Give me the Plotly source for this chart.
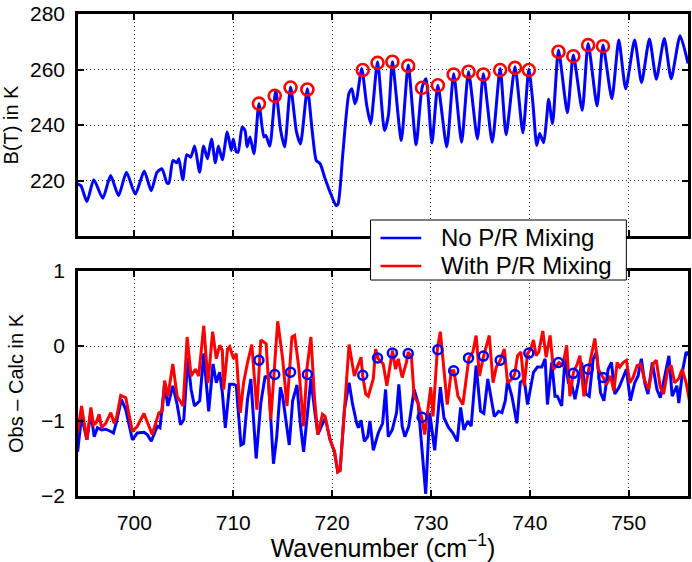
import plotly.graph_objects as go

# ---------------- data ----------------
top_wn = [694.26, 694.6, 695.2, 695.9, 696.8, 697.6, 698.4, 699.2, 700.1, 701.0,
          701.7, 702.3, 702.8, 703.3, 703.5, 703.9, 704.3, 704.5, 704.9, 705.3,
          705.7, 706.1, 706.6, 707.0, 707.4, 707.8, 708.2, 708.5, 708.9, 709.4,
          709.8, 710.0, 710.3, 710.5, 710.9, 711.2, 711.4, 711.7, 712.1, 712.6,
          713.1, 713.3, 713.7, 714.3, 714.8, 715.2, 715.8, 716.4, 716.8, 717.5,
          718.0, 718.4, 718.8, 719.3, 720.0, 720.4, 720.6, 721.1, 721.7, 722.0,
          722.3, 722.5, 723.0, 723.5, 723.9, 724.6, 725.3, 725.7, 726.1, 727.0,
          727.7, 728.5, 729.1, 729.5, 730.1, 730.7, 731.6, 732.3, 733.1, 733.8,
          734.7, 735.3, 736.2, 737.0, 737.6, 738.5, 739.3, 739.9, 740.3, 740.7,
          741.0, 741.4, 741.7, 741.9, 742.3, 742.9, 743.8, 744.4, 745.3, 745.9,
          746.8, 747.4, 748.3, 749.0, 749.7, 750.6, 751.3, 752.1, 752.8, 753.6,
          754.3, 755.2, 756.0]
top_bt = [218.8, 218.1, 212.4, 220.3, 213.6, 221.8, 214.5, 223.0, 215.1, 223.4,
          216.3, 223.0, 224.2, 219.1, 219.1, 227.2, 226.4, 227.8, 220.3, 229.3,
          228.4, 232.4, 223.0, 232.4, 227.8, 235.0, 226.4, 232.4, 227.5, 237.5,
          230.8, 235.0, 230.4, 230.2, 239.3, 238.0, 232.1, 235.7, 229.6, 247.7,
          235.7, 236.2, 232.4, 252.5, 238.0, 232.1, 253.7, 237.5, 233.2, 253.1,
          237.5, 227.2, 226.0, 220.6, 214.0, 211.0, 211.5, 230.2, 251.3, 253.1,
          247.7, 249.5, 260.4, 247.1, 240.5, 262.8, 238.0, 243.5, 262.8, 234.4,
          261.6, 232.9, 253.5, 256.7, 233.5, 254.3, 232.1, 258.5, 233.8, 259.2,
          235.0, 258.5, 233.8, 260.4, 236.5, 261.0, 237.2, 260.1, 248.3, 232.6,
          236.9, 233.6, 242.3, 249.3, 240.5, 267.0, 244.4, 265.2, 245.3, 269.4,
          246.9, 268.8, 249.5, 270.6, 253.1, 270.6, 255.3, 271.0, 256.5, 271.2,
          256.7, 272.2, 262.2]

red_wn = [694.26, 694.66, 695.20, 695.60, 695.87, 696.11, 696.44, 696.68, 697.11, 697.62,
          697.95, 698.22, 698.62, 699.13, 699.80, 700.30, 700.97, 701.81, 702.48, 702.82,
          703.06, 703.39, 703.89, 704.33, 704.93, 705.34, 705.74, 706.18, 706.51, 707.02,
          707.45, 707.92, 708.29, 708.63, 708.90, 709.03, 709.43, 709.64, 710.04, 710.31,
          710.71, 711.05, 711.45, 711.88, 712.39, 712.79, 713.33, 713.80, 714.50, 715.00,
          715.44, 715.94, 716.21, 716.61, 717.12, 717.45, 717.86, 718.23, 718.56, 719.03,
          719.30, 719.80, 720.24, 720.58, 720.81, 721.25, 721.72, 722.25, 722.59, 722.93,
          723.09, 723.40, 723.66, 724.17, 724.40, 724.67, 725.17, 725.54, 726.11, 726.42,
          726.69, 727.09, 727.52, 727.69, 728.03, 728.30, 728.70, 729.04, 729.37, 729.71,
          729.98, 730.21, 730.65, 730.95, 731.25, 731.65, 732.06, 732.32, 732.73, 733.23,
          733.84, 734.24, 734.57, 734.91, 735.31, 735.90, 736.28, 736.61, 737.01, 737.42,
          737.75, 738.19, 738.46, 738.76, 739.10, 739.43, 739.77, 740.10, 740.37, 740.64,
          740.91, 741.31, 741.65, 742.05, 742.39, 742.96, 743.33, 743.73, 744.06, 744.40,
          744.80, 745.07, 745.47, 745.91, 746.18, 746.58, 746.92, 747.42, 747.76, 748.16,
          748.50, 748.83, 749.10, 749.44, 749.77, 750.11, 750.44, 750.85, 751.21, 751.62,
          752.02, 752.46, 752.79, 753.20, 753.53, 753.97, 754.30, 754.64, 755.04, 755.41,
          755.81, 756.15]
red_oc = [-1.16, -0.80, -1.25, -0.82, -1.05, -1.03, -0.91, -1.09, -1.03, -0.89,
          -1.03, -0.94, -0.66, -0.69, -1.14, -1.07, -0.90, -1.18, -0.89, -0.87,
          -0.46, -0.67, -0.24, -0.67, -0.80, 0.12, -0.40, -0.31, -0.40, 0.27,
          -0.49, 0.19, -0.17, 0.01, -0.06, -0.58, -0.04, -0.01, -0.17, -0.10,
          -0.89, -0.49, -0.22, 0.02, -0.85, 0.08, 0.03, -0.98, 0.33, -0.17,
          -0.80, 0.12, 0.14, -0.26, -1.07, -0.31, 0.12, -0.71, -1.18, -0.91,
          -0.94, -1.25, -1.41, -1.68, -1.66, -0.85, 0.02, -0.40, -0.26, -0.15,
          -0.39, -0.64, -0.67, -0.44, -0.04, -0.17, -0.24, -0.53, -0.06, -0.31,
          -0.17, -0.42, -0.22, -0.08, -0.15, -0.67, -0.76, -0.94, -1.18, -0.85,
          -0.55, -0.94, -0.04, 0.19, -0.26, -0.78, -0.33, -0.33, -0.67, -0.78,
          -0.16, -0.08, 0.14, -0.40, -0.14, 0.14, -0.49, -0.28, -0.19, -0.04,
          -0.49, -0.44, -0.38, -0.13, -0.08, -0.53, -0.10, -0.04, 0.08, -0.13,
          -0.08, 0.20, -0.15, 0.14, -0.31, -0.22, -0.26, 0.01, -0.67, -0.36,
          -0.24, -0.13, -0.67, -0.31, -0.15, 0.10, -0.31, -0.42, -0.51, -0.40,
          -0.60, -0.22, -0.28, -0.22, -0.19, -0.49, -0.42, -0.26, -0.24, -0.46,
          -0.58, -0.24, -0.19, -0.55, -0.64, -0.31, -0.26, -0.49, -0.44, -0.31,
          -0.49, -0.73]

blue_wn = [694.26, 694.66, 695.20, 695.60, 695.94, 696.27, 696.68, 697.11, 697.62, 697.89,
           698.22, 698.69, 699.13, 699.80, 700.30, 700.97, 701.31, 701.71, 702.32, 702.59,
           703.06, 703.39, 703.89, 704.33, 704.67, 705.00, 705.41, 705.74, 706.08, 706.41,
           706.61, 707.02, 707.52, 707.96, 708.29, 708.63, 708.90, 709.20, 709.64, 710.04,
           710.31, 710.78, 711.05, 711.45, 711.78, 712.32, 712.79, 713.23, 713.56, 714.07,
           714.40, 714.77, 715.00, 715.67, 716.01, 716.45, 716.78, 717.12, 717.45, 717.86,
           718.23, 718.56, 719.30, 719.80, 720.24, 720.58, 720.81, 721.25, 721.72, 722.05,
           722.49, 722.66, 722.93, 723.26, 723.60, 723.83, 724.17, 724.67, 725.11, 725.41,
           725.68, 726.08, 726.52, 726.75, 727.09, 727.36, 727.76, 728.30, 728.70, 729.10,
           729.47, 729.87, 730.38, 730.95, 731.32, 731.79, 732.22, 732.66, 733.00, 733.33,
           733.73, 734.07, 734.57, 735.01, 735.35, 735.75, 736.01, 736.41, 736.85, 737.18,
           737.52, 737.75, 738.19, 738.69, 739.03, 739.43, 739.77, 740.04, 740.37, 740.77,
           741.21, 741.55, 741.78, 742.22, 742.55, 742.79, 743.22, 743.56, 743.90, 744.23,
           744.57, 744.90, 745.24, 745.68, 746.01, 746.41, 746.75, 747.15, 747.49, 747.92,
           748.26, 748.60, 749.03, 749.37, 749.77, 750.17, 750.61, 750.95, 751.28, 751.62,
           751.95, 752.39, 752.86, 753.20, 753.63, 754.07, 754.40, 754.87, 755.07, 755.48,
           755.81, 756.15]
blue_oc = [-1.41, -0.94, -1.25, -0.89, -1.21, -1.09, -1.12, -1.11, -1.14, -1.16,
           -1.00, -0.71, -0.85, -1.25, -1.16, -1.15, -1.18, -1.27, -1.07, -1.09,
           -0.51, -0.80, -0.53, -0.78, -1.05, -0.98, -0.16, -0.58, -0.80, -0.76,
           -0.73, -0.10, -0.87, -0.24, -0.49, -0.35, -0.62, -1.09, -0.51, -0.51,
           -0.53, -1.32, -1.30, -0.71, -0.44, -1.50, -0.76, -0.40, -0.44, -1.57,
           -1.21, -0.55, -0.67, -1.32, -0.73, -0.52, -1.03, -1.41, -0.98, -0.44,
           -0.85, -1.18, -0.96, -1.25, -1.41, -1.68, -1.66, -0.85, -0.49, -0.76,
           -1.03, -1.09, -0.99, -1.27, -1.21, -1.00, -1.39, -1.16, -1.03, -0.58,
           -1.21, -1.12, -0.89, -0.51, -1.07, -1.21, -1.07, -0.58, -0.76, -1.39,
           -1.97, -0.89, -1.39, -0.55, -0.96, -1.09, -1.16, -1.27, -0.82, -1.12,
           -1.00, -1.07, -0.26, -0.87, -0.90, -0.44, -0.62, -0.94, -0.87, -0.89,
           -0.73, -0.46, -0.67, -1.03, -0.49, -0.44, -0.78, -0.58, -0.35, -0.28,
           -0.28, -0.17, -0.78, -0.22, -0.67, -0.67, -0.80, -0.17, -0.49, -0.51,
           -0.71, -0.49, -0.22, -0.64, -0.67, -0.17, -0.08, -0.62, -0.73, -0.31,
           -0.22, -0.64, -0.55, -0.44, -0.31, -0.73, -0.49, -0.40, -0.17, -0.49,
           -0.64, -0.22, -0.58, -0.69, -0.40, -0.13, -0.67, -0.53, -0.76, -0.31,
           -0.08, -0.13]

peak_wn = [712.6, 714.2, 715.8, 717.5, 723.1, 724.6, 726.1, 727.7, 729.1, 730.7,
           732.3, 733.8, 735.3, 737.0, 738.5, 739.9, 742.9, 744.4, 745.9, 747.4]
peak_bt = [247.7, 250.5, 253.5, 252.8, 259.8, 262.4, 262.8, 261.3, 253.4, 254.3,
           258.2, 259.2, 258.2, 259.8, 260.6, 259.8, 266.4, 264.8, 268.8, 268.4]
peak_oc = [-0.19, -0.38, -0.35, -0.38, -0.39, -0.16, -0.095, -0.10, -0.95, -0.05,
           -0.33, -0.16, -0.135, -0.19, -0.38, -0.095, -0.22, -0.365, -0.31, -0.42]

x_ticks = [700, 710, 720, 730, 740, 750]
top_ticks = [220, 240, 260, 280]
bot_ticks = [-2, -1, 0, 1]
legend_labels = ["No P/R Mixing", "With P/R Mixing"]

BLUE = "#0000ff"
RED = "#ff0000"
FONT = "Liberation Sans, Arial, sans-serif"
FS = 21

fig = go.Figure()
fig.add_trace(go.Scatter(x=top_wn, y=top_bt, mode="lines", name=legend_labels[0],
                         line=dict(color=BLUE, width=3, shape="spline", smoothing=0.6),
                         xaxis="x", yaxis="y", showlegend=False))
fig.add_trace(go.Scatter(x=peak_wn, y=peak_bt, mode="markers", showlegend=False,
                         marker=dict(symbol="circle-open", size=12, color=RED,
                                     line=dict(width=2.6, color=RED)),
                         xaxis="x", yaxis="y"))
fig.add_trace(go.Scatter(x=blue_wn, y=blue_oc, mode="lines", showlegend=False,
                         line=dict(color=BLUE, width=3), xaxis="x2", yaxis="y2"))
fig.add_trace(go.Scatter(x=red_wn, y=red_oc, mode="lines", name=legend_labels[1],
                         line=dict(color=RED, width=3), xaxis="x2", yaxis="y2",
                         showlegend=False))
fig.add_trace(go.Scatter(x=peak_wn, y=peak_oc, mode="markers", showlegend=False,
                         marker=dict(symbol="circle-open", size=9, color=BLUE,
                                     line=dict(width=2.5, color=BLUE)),
                         xaxis="x2", yaxis="y2"))

xr = [694.3, 756.0]
common = dict(showline=True, linecolor="black", linewidth=2.5, mirror="ticks",
              ticks="inside", ticklen=6, tickwidth=1.5, tickcolor="black",
              showgrid=True, gridcolor="rgba(0,0,0,0.85)", griddash="1px,3px", gridwidth=1,
              zeroline=False, tickfont=dict(family=FONT, size=FS, color="black"))

# ---- legend box (paper coordinates), drawn over both panels ----
LX0, LX1, LY0, LY1 = 0.4796, 0.8989, 0.4481, 0.5726
row_y = [0.5353, 0.4772]
shapes = [dict(type="rect", xref="paper", yref="paper", x0=LX0, x1=LX1, y0=LY0, y1=LY1,
               fillcolor="white", line=dict(color="black", width=1), layer="above")]
annotations = []
for lab, col, ry in zip(legend_labels, [BLUE, RED], row_y):
    shapes.append(dict(type="line", xref="paper", yref="paper", x0=0.4959, x1=0.5628,
                       y0=ry, y1=ry, line=dict(color=col, width=2.5), layer="above"))
    annotations.append(dict(text=lab, xref="paper", yref="paper", x=0.5922, y=ry,
                            xanchor="left", yanchor="middle", showarrow=False,
                            font=dict(family=FONT, size=24, color="black")))

fig.update_layout(
    width=692, height=562,
    margin=dict(l=78, r=1, t=14, b=66),
    paper_bgcolor="white", plot_bgcolor="white",
    font=dict(family=FONT, size=FS, color="black"),
    xaxis=dict(domain=[0, 1], range=xr, anchor="y", tickvals=x_ticks,
               showticklabels=False, **common),
    yaxis=dict(domain=[0.5394, 1], range=[200, 280], anchor="x", tickvals=top_ticks,
               title=dict(text="B(T) in K", standoff=13,
                          font=dict(family=FONT, size=20, color="black")),
               ticklabelstandoff=6, **common),
    xaxis2=dict(domain=[0, 1], range=xr, anchor="y2", tickvals=x_ticks,
                title=dict(text="Wavenumber (cm<sup>−1</sup>)", standoff=6),
                ticklabelstandoff=6, **common),
    yaxis2=dict(domain=[0, 0.4668], range=[-2, 1], anchor="x2", tickvals=bot_ticks,
                title=dict(text="Obs – Calc in K", standoff=13,
                           font=dict(family=FONT, size=20, color="black")),
                ticklabelstandoff=6, **common),
    shapes=shapes,
    annotations=annotations,
    showlegend=False,
)

fig.write_html("out.html")
